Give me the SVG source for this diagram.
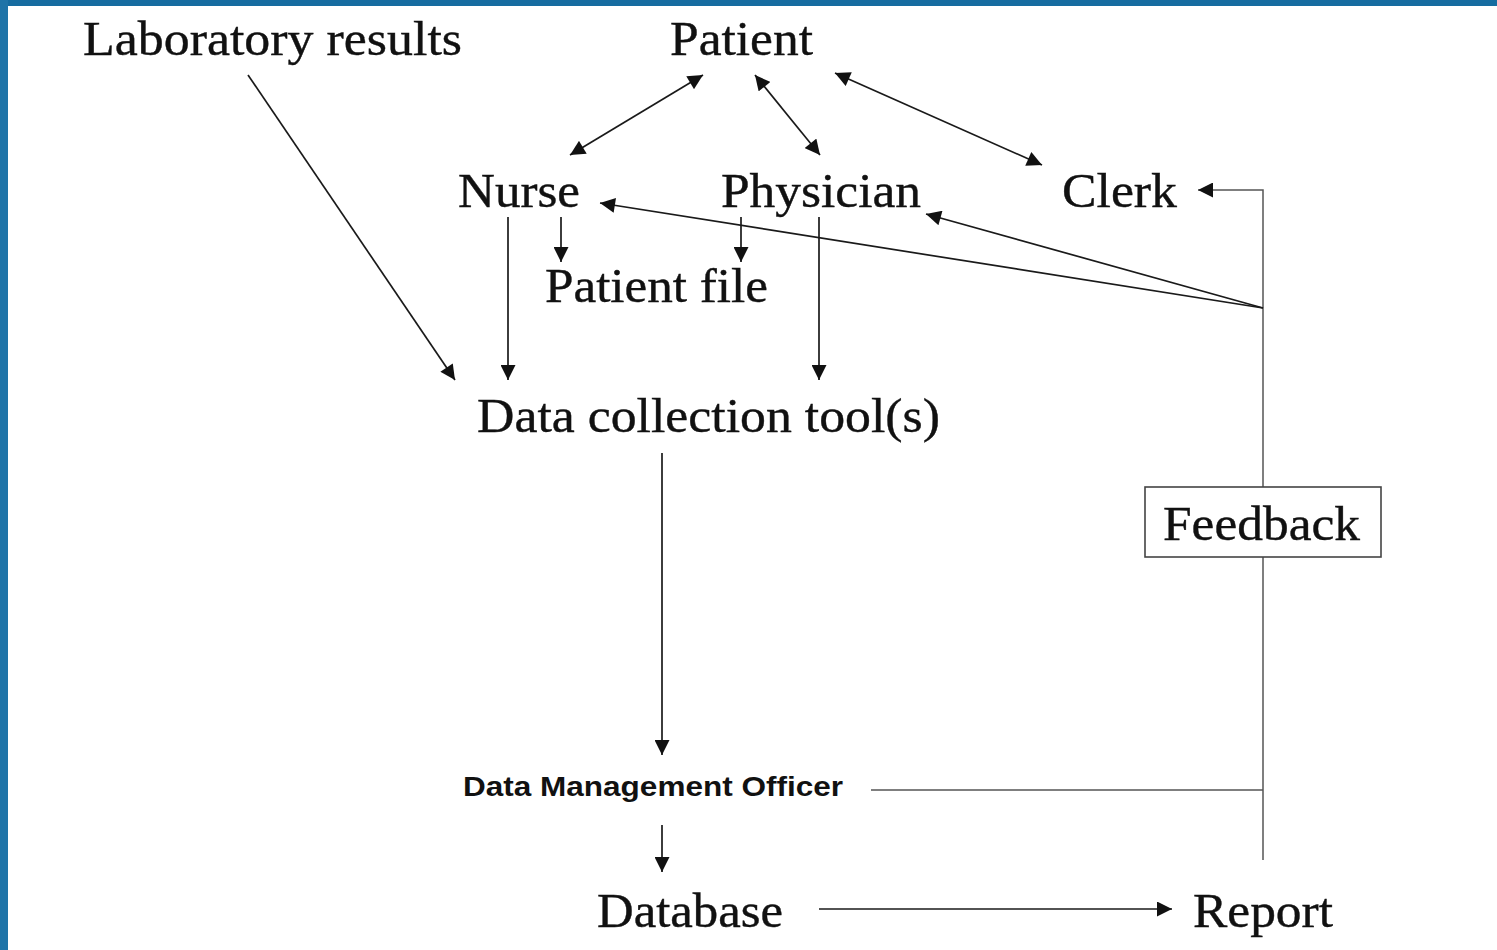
<svg xmlns="http://www.w3.org/2000/svg" width="1497" height="950" viewBox="0 0 1497 950">
<style>
.t{font-family:"Liberation Serif","Times New Roman",serif;font-size:49px;fill:#111;stroke:#111;stroke-width:0.4}
.s{font-family:"Liberation Sans",Arial,sans-serif;font-size:27px;font-weight:bold;fill:#111}
.c line,.c path{stroke:#1a1a1a;stroke-width:1.7;fill:none}
.c .g{stroke:#555;stroke-width:1.5}
</style>
<defs>
<marker id="a" viewBox="0 0 10 10" refX="10" refY="5" markerWidth="16" markerHeight="15" markerUnits="userSpaceOnUse" orient="auto-start-reverse">
<path d="M0,0 L10,5 L0,10 Z" fill="#111"/>
</marker>
</defs>
<rect width="1497" height="950" fill="#fff"/>
<rect x="0" y="0" width="1497" height="6" fill="#166ca0"/>
<rect x="0" y="0" width="8" height="950" fill="#1f74a8"/>
<g class="c" id="connectors">
<line x1="248" y1="75" x2="455" y2="380" marker-end="url(#a)"/>
<line x1="703" y1="75" x2="570" y2="155" marker-start="url(#a)" marker-end="url(#a)"/>
<line x1="755" y1="75" x2="820" y2="155" marker-start="url(#a)" marker-end="url(#a)"/>
<line x1="835" y1="73" x2="1042" y2="165" marker-start="url(#a)" marker-end="url(#a)"/>
<line x1="508" y1="217" x2="508" y2="380" marker-end="url(#a)"/>
<line x1="561" y1="217" x2="561" y2="262" marker-end="url(#a)"/>
<line x1="741" y1="217" x2="741" y2="262" marker-end="url(#a)"/>
<line x1="819" y1="217" x2="819" y2="380" marker-end="url(#a)"/>
<path class="g" d="M1263,860 L1263,190 L1198,190" marker-end="url(#a)"/>
<line x1="1263" y1="308" x2="600" y2="203" marker-end="url(#a)"/>
<line x1="1263" y1="308" x2="926" y2="214" marker-end="url(#a)"/>
<line x1="662" y1="453" x2="662" y2="755" marker-end="url(#a)"/>
<line class="g" x1="871" y1="790" x2="1263" y2="790"/>
<line x1="662" y1="825" x2="662" y2="872" marker-end="url(#a)"/>
<line x1="819" y1="909" x2="1172" y2="909" marker-end="url(#a)"/>
</g>
<g id="lab"><text class="t" x="83" y="55" textLength="379" lengthAdjust="spacingAndGlyphs">Laboratory results</text></g>
<g id="patient"><text class="t" x="670" y="55" textLength="143" lengthAdjust="spacingAndGlyphs">Patient</text></g>
<g id="nurse"><text class="t" x="458" y="207" textLength="122" lengthAdjust="spacingAndGlyphs">Nurse</text></g>
<g id="physician"><text class="t" x="721" y="207" textLength="200" lengthAdjust="spacingAndGlyphs">Physician</text></g>
<g id="clerk"><text class="t" x="1062" y="207" textLength="115" lengthAdjust="spacingAndGlyphs">Clerk</text></g>
<g id="patientfile"><text class="t" x="545" y="302" textLength="223" lengthAdjust="spacingAndGlyphs">Patient file</text></g>
<g id="dct"><text class="t" x="477" y="432" textLength="463" lengthAdjust="spacingAndGlyphs">Data collection tool(s)</text></g>
<g id="feedback"><rect x="1145" y="487" width="236" height="70" fill="#fff" stroke="#444" stroke-width="1.6"/><text class="t" x="1163" y="540" textLength="197" lengthAdjust="spacingAndGlyphs">Feedback</text></g>
<g id="dmo"><text class="s" x="463" y="796" textLength="380" lengthAdjust="spacingAndGlyphs">Data Management Officer</text></g>
<g id="database"><text class="t" x="597" y="927" textLength="186" lengthAdjust="spacingAndGlyphs">Database</text></g>
<g id="report"><text class="t" x="1193" y="927" textLength="140" lengthAdjust="spacingAndGlyphs">Report</text></g>
</svg>
